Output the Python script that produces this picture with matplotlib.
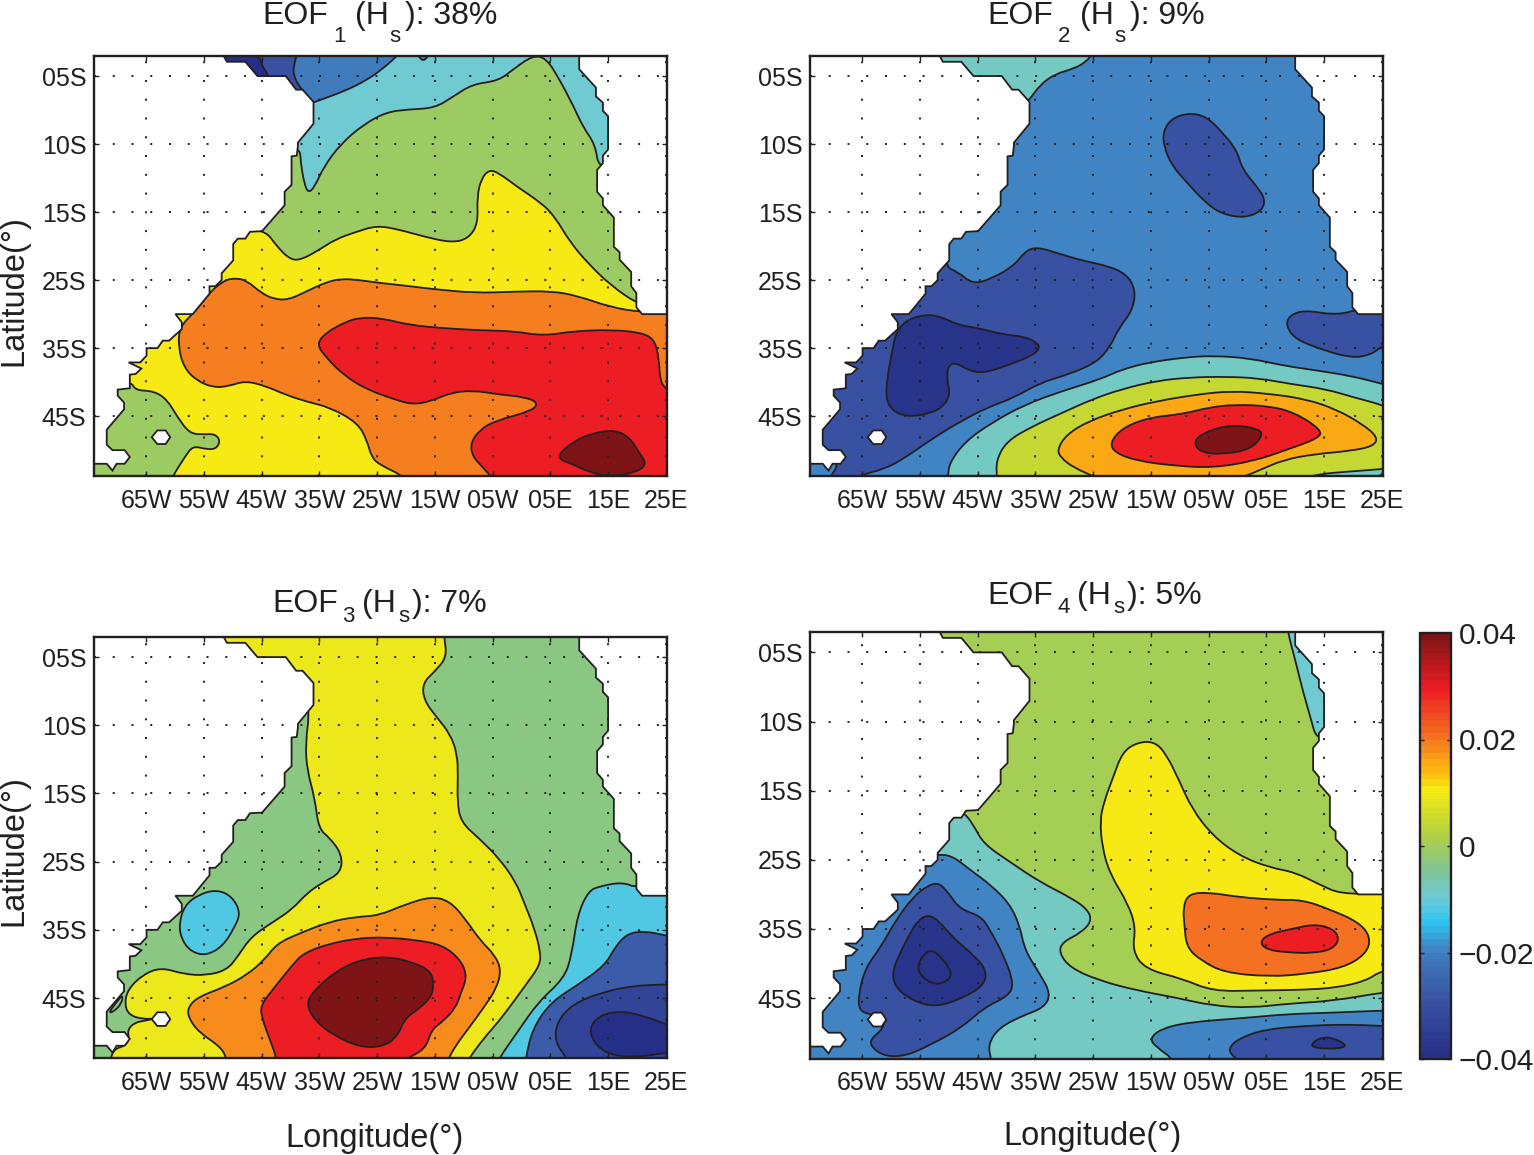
import numpy as np
import matplotlib
matplotlib.use("Agg")
import matplotlib.pyplot as plt
from matplotlib.cm import ScalarMappable
from matplotlib.colors import LinearSegmentedColormap, Normalize
from matplotlib.patches import PathPatch
from matplotlib.path import Path

plt.rcParams['font.family'] = ['Liberation Sans', 'DejaVu Sans']

INK = "#231f20"

lon_ticks = [-65, -55, -45, -35, -25, -15, -5, 5, 15, 25]
lon_labels = ["65W", "55W", "45W", "35W", "25W", "15W", "05W", "05E", "15E", "25E"]
lat_ticks = [-5, -15, -25, -35, -45, -55]
lat_labels = ["05S", "10S", "15S", "25S", "35S", "45S"]
cbar_ticks = [-0.04, -0.02, 0, 0.02, 0.04]
cbar_labels = ["\u22120.04", "\u22120.02", "0", "0.02", "0.04"]

# colour scale
cmap_values = [-0.04, -0.029, -0.02, -0.0144, -0.01, -0.005, 0.0, 0.005, 0.0106, 0.0135, 0.02, 0.03, 0.04]
cmap_colors = ["#262f87", "#3a54a4", "#4180c0", "#2dc4f2", "#6fcbd8", "#7cc49a", "#a0cc5a",
               "#c8d82e", "#f5ec14", "#ffc20e", "#f47a20", "#ed1c24", "#7f1416"]

# land outlines
west_lon = [-51.9, -51.0, -47.8, -45.7, -40.8, -39.0, -37.9, -36.0, -36.0, -38.7, -38.7, -38.9, -39.8, -39.8, -41, -41,
            -44.9, -47, -47.8, -49.1, -49.9, -49.9, -51.9, -51.9, -53, -54, -54, -56.9, -59.9, -58.8, -58.8, -61,
            -62.1, -63, -64.9, -64.9, -66, -68, -65.8, -66.8, -67.8, -67.8, -69.9, -69.9, -68.8, -68.8, -71.8, -71.8,
            -70.8, -68.7, -67.8, -68.7, -70.1, -70.8, -71.8, -74, -76, -76, -51.9]
west_lat = [-1.5, -2.9, -2.9, -5, -5, -7, -7, -8.8, -12.0, -14.8, -15.3, -16.7, -16.8, -21, -22, -24,
            -27.8, -27.9, -28.9, -28.9, -29.7, -32.1, -34, -35, -35.9, -35.9, -37, -40, -40, -41.2, -42.2, -43.9,
            -43.9, -45, -45, -46.1, -47.1, -47.1, -48, -48.8, -48.9, -50.9, -51.1, -52, -53, -54, -57, -59.2,
            -60, -60, -61, -62, -62, -63, -62, -62, -62, 0, 0]
east_lon = [10, 10, 12.9, 12.9, 14.1, 14.1, 15, 15, 14.1, 14.1, 13.1, 13.1, 14.1, 14.1, 16, 16, 17, 17, 19, 19,
            19.9, 19.9, 20.9, 27, 27, 10]
east_lat = [-1.5, -4, -6.7, -8, -8.9, -10.1, -10.9, -15.8, -16.7, -17.8, -18.8, -22, -23, -24, -25.8, -30.1,
            -30.9, -32, -33.8, -35.9, -36.9, -39, -40, -40, 0, 0]
island_lon = [-64, -63.05, -61.6, -60.8, -61.6, -63.05]
island_lat = [-58.1, -57.1, -57.1, -58.1, -59.1, -59.1]

# EOF1 contour regions
e1_green_lon = [-44.2, -42.3, -40, -38.1, -35.1, -32.2, -28.6, -25.1, -21.5, -16.9, -12.1, -9.2, -7.5, -7.7, -6.9, -5.6,
                -4, -0.7, 3.5, 5.8, 8.4, 11.6, 15.5, 20.1, 22, 24, 24, -50, -55, -48]
e1_green_lat = [-27.8, -30.1, -32, -32, -30.6, -29, -27.9, -27, -27.5, -28.6, -29.5, -28.9, -26.7, -22.7, -20, -18.8,
                -19.2, -21.3, -23.7, -25.7, -29.4, -32.6, -35.8, -38.5, -38.5, -20, 0, 0, -20, -27.5]
e1_greensw_lon = [-67.6, -66.9, -63.7, -61.4, -59.5, -57.5, -55.3, -53, -52.1, -53, -54.9, -56.9, -58.2, -60.5, -61.4, -78, -78]
e1_greensw_lat = [-49.8, -51.2, -51.3, -52.5, -55.2, -57.5, -57.7, -57.6, -58.7, -59.9, -59.8, -59.4, -60.9, -64, -66, -66, -49.8]
e1_orange_lon = [-54, -51.4, -49.4, -47.5, -45.2, -42.9, -40.3, -37.1, -33.8, -31.2, -28, -24.7, -20.2, -15.6, -7.9, -1.4,
                 5.1, 9.7, 15.5, 20.7, 28.5, 28.5, -17, -19.9, -24.7, -26, -26.7, -28.3, -33.2, -37.1, -41, -44.2, -47.8,
                 -50.7, -53.3, -56.2, -58.4, -59.4, -59.2, -56.6]
e1_orange_lat = [-36.8, -35, -34.7, -35.1, -36.8, -37.8, -37.9, -36.6, -35.3, -34.8, -35, -35.4, -35.8, -36.3, -36.9, -36.7,
                 -36.6, -37.3, -39, -39.7, -40, -68, -67.6, -64, -62.1, -60.9, -58.7, -56, -53.7, -52.9, -51.8, -50.6, -49.8,
                 -50.6, -50.8, -49.8, -47.9, -44.9, -41.9, -39.7]
e1_red_lon = [-35.5, -33.8, -30.6, -28, -24.1, -19.5, -13.1, -6.6, -1.4, 3.8, 9, 15.5, 20.7, 23, 23.8, 24, 25, 28, 28, -2,
              -6.6, -8.5, -8.8, -7.2, -4.6, 1.9, 2.9, 0.6, -4, -8.5, -12.4, -15.6, -18.9, -22.1, -26.7, -30.6, -33.8]
e1_red_lat = [-44.4, -42.7, -41.2, -40.5, -40.6, -41.6, -42.1, -42.4, -42.5, -43.2, -42.5, -42.3, -42.7, -43.7, -46.4, -49.8, -51, -53, -68, -67,
              -62.6, -60.9, -58.9, -57, -55.7, -54.2, -53, -52.2, -51.8, -51.2, -51.6, -52.8, -53.3, -52.5, -51.1, -49.1, -46.4]
e1_dark_lon = [5.8, 9, 12.3, 16.2, 18.8, 20.4, 21.7, 20.1, 15.5, 11.6, 9]
e1_dark_lat = [-61.1, -58.7, -57.5, -57, -58.2, -60.4, -62, -63.2, -63.9, -63.2, -62.1]
e1_cyan_lon = [-38.4, -38.2, -37.6, -36.9, -35.8, -34.2, -31.2, -27.3, -23.4, -19.5, -15, -11.8, -8.5, -4, -1.4, 1.9, 4.2,
               6.4, 9, 10.6, 12.8, 13.4, 20, 20, -45, -45]
e1_cyan_lat = [-15.3, -17.8, -20.8, -22.2, -21.3, -18.3, -14.9, -12.1, -10.3, -9.9, -9.7, -8, -6.2, -5.7, -4, -2.0, -2.3,
               -5.2, -9.4, -12.4, -15.1, -18.8, -18.8, 0, 0, -15.3]
e1_blue_lon = [-50, -37, -34.8, -30.6, -27, -24.1, -21.2, -19.5, -55]
e1_blue_lat = [-9, -9.2, -8.5, -7.2, -5.7, -4, -1.8, 0, 0]
e1_dblue_lon = [-38.2, -39.5, -39.4, -37.9, -36.5, -42, -55]
e1_dblue_lat = [0, -3.5, -5.2, -7.2, -8.6, -9, -3]
e1_navy_lon = [-45.2, -45, -43.6, -44, -55, -55]
e1_navy_lat = [-2, -3.5, -5, -7, -7, 0]
e1_bump_lon = [-18.5, -17, -15.5]
e1_bump_lat = [-1.0, -3.2, -1.0]

# EOF2 contour regions
e2_teal_lon = [-36.1, -34.2, -31.6, -28.3, -26.4, -25.2, -24.4, -55, -55, -45, -38]
e2_teal_lat = [-8.6, -6.3, -4.7, -3.9, -3, -1.9, 0.3, 0, -5, -7.5, -10]
e2_ne_lon = [-8.2, -5.3, -2.7, -0.1, 0.8, 3.2, 4.8, 4.3, 1.2, -3, -5.9, -8.8, -11.4, -12.7, -12.9, -11.4]
e2_ne_lat = [-10.4, -11, -13.2, -15.9, -18.6, -21.1, -23, -24.8, -25.9, -25.2, -23.3, -20.6, -18.1, -15.4, -13.2, -11.2]
e2_west_lon = [-50.7, -48.4, -45.8, -42.6, -38.7, -36.8, -34.8, -30.9, -27, -22.5, -19.2, -17.6, -18.2, -20.5, -22.1, -24.4,
               -29, -34.2, -38.7, -43.2, -47.8, -53, -57.5, -61.1, -66, -67, -71.2, -68.7, -72, -76, -70, -58, -50]
e2_west_lat = [-33, -33.8, -35.6, -34.8, -32.9, -30.8, -30.1, -31.1, -32.1, -32.9, -34.1, -36.5, -39.5, -42, -44.9, -47.1,
               -48.8, -50.1, -52.3, -53.7, -55.7, -58.4, -61.1, -62.8, -63.8, -65.5, -64.6, -61.9, -61.5, -55, -45, -35, -28]
e2_navy_lon = [-53.6, -51, -48.4, -44.5, -40.6, -36.8, -34.7, -34.2, -35.5, -39.4, -43.9, -46.5, -48.8, -50.1, -50.3, -49.7,
               -51, -53.6, -57.2, -59.8, -60.9, -60.6, -59.8, -59, -56.9]
e2_navy_lat = [-40, -40.5, -41.6, -42.1, -43, -43.3, -44.2, -45, -46.1, -47.4, -48.7, -48.3, -47.1, -47.6, -49.6, -51.8,
               -53.7, -54.7, -55.1, -54.2, -52.3, -49.3, -45.4, -42.4, -40.7]
e2_se_lon = [20.1, 16.5, 11.6, 9, 8.4, 10, 15.2, 19.7, 22.7, 24.9, 28, 28, 21]
e2_se_lat = [-39.6, -40.1, -39.4, -40.2, -41.7, -43.7, -45.4, -46.4, -46.1, -44.9, -43, -39, -39]
e2_tealsouth_lon = [-50.1, -49.9, -47.1, -42.6, -36.8, -30.3, -23.8, -19.9, -15.3, -9.5, -4.3, 2.2, 8.1, 13.9, 19.7, 24.9, 28, 28, -51]
e2_tealsouth_lat = [-64, -61.9, -58.7, -56, -53.3, -51.3, -49.6, -48.1, -47.1, -46.4, -46.1, -46.5, -47.6, -48.3, -49.1, -50.2, -51, -68, -68]
e2_olive_lon = [-41.6, -41.8, -40, -35.5, -30.3, -25.1, -19.9, -14, -8.2, -2.3, 3.5, 9.4, 15.2, 20.4, 24.9, 28, 28, 24.9, 18.4, 14.5, 12, 10, -42]
e2_olive_lat = [-64, -61.6, -58.7, -56.5, -54.5, -52.5, -51, -49.8, -49.3, -49.2, -49.4, -50.3, -51, -52.3, -53.3, -54.5, -62.5, -62.8, -63.2, -63.5, -64, -65.5, -66]
e2_amber_lon = [-31.2, -29.6, -25.7, -19.9, -14, -6.9, -1, 5.5, 11.9, 17.1, 21.7, 24.3, 23.6, 19.7, 13.2, 8.1, 4.2, 0.9, -4.3, -23.8, -24.4, -28.3, -30.6]
e2_amber_lat = [-59.9, -57.7, -55.7, -54, -52.8, -51.8, -51.3, -51.7, -52.5, -54, -56.2, -58.1, -59.4, -60.1, -60.6, -61.4, -62.8, -64, -65, -65, -64, -62.6, -61.1]
e2_red_lon = [-22.1, -19.9, -15.3, -9.5, -4.9, -0.4, 5.5, 10, 14.5, 14.2, 8.7, 2.9, -4.3, -10.8, -17.3, -21.2]
e2_red_lat = [-58.9, -56.7, -55.2, -54.7, -53.7, -53.3, -53.5, -54.5, -57, -58.2, -59.9, -61.6, -62.6, -62.3, -61.6, -60.4]
e2_dark_lon = [-7.7, -5.9, -1, 3.8, 4.4, 2.2, -2.3, -6.2]
e2_dark_lat = [-58.9, -57.4, -56.2, -56.9, -57.9, -59.9, -60.6, -60.4]

# EOF3 contour regions
e3_yellow_lon = [-13.4, -13.4, -12.9, -15, -17.1, -16.9, -14.7, -12.4, -11.1, -11, -11.1, -10.5, -7.2, -4, -1, 0.6, 2.2, 3.3, 3.2,
                 0.9, -1.4, -4, -6.6, -9.2, -10.5, -71.4, -71.2, -70.5, -68.6, -67.9, -68.2, -67, -65, -63.4, -65.6, -67.9,
                 -68.7, -68.2, -65.6, -62.4, -58.5, -54.6, -51, -49.1, -46.8, -42.9, -39.7, -37.1, -34.5, -31.2, -31.1, -33.2,
                 -35.1, -35.8, -37.1, -37.4, -36.6, -38.4, -50, -60]
e3_yellow_lat = [0, -2, -5, -7.1, -8.8, -11.3, -13.8, -16.2, -19.2, -22.6, -26.1, -29.2, -31.7, -34.4, -37.9, -41.3, -44.7, -48.2, -50.2,
                 -52.9, -55.6, -58.5, -61, -64, -66, -66.5, -64, -62.5, -62, -61, -59.7, -58.6, -58.3, -58, -58.1, -57.5,
                 -56, -53.8, -51.6, -50.5, -51.5, -51.7, -50.9, -48.9, -46, -43.8, -42, -39.6, -38.1, -36.6, -33.9, -31.5,
                 -30.2, -25.6, -21.6, -17.7, -12.5, -9.3, -9, 0]
e3_sliver_lon = [-71.5, -70, -69, -69.2, -70.6]
e3_sliver_lat = [-57.2, -55.5, -54.5, -55.8, -57]
e3_blob_lon = [-55.9, -52.7, -50.1, -48.6, -49.7, -51.7, -54.6, -57.2, -58.8, -59.3, -58.4]
e3_blob_lat = [-39.8, -39.1, -40.1, -42.5, -44.7, -47.4, -48.8, -48.2, -46.5, -44.3, -41.5]
e3_orange_lon = [-57.7, -55.9, -51.4, -47.5, -44.5, -42.3, -38.4, -33.2, -28.6, -24.7, -20.2, -15.6, -12.4, -9.8, -7.2, -4.6, -3.5,
                 -4.3, -6.6, -9.2, -11.4, -12.7, -13.7, -51, -51, -52, -55.9, -57.7]
e3_orange_lat = [-56.3, -54.8, -53.4, -51.6, -49.4, -47, -45.5, -43.8, -43.1, -42.9, -41.3, -40.1, -40.8, -43.3, -46.5, -48.7, -50.9,
                 -53.6, -56.5, -59.5, -62, -64, -66, -66, -64, -62.2, -60, -57.8]
e3_red_lon = [-45.2, -42.9, -39.7, -37.7, -33.2, -28, -23.4, -18.2, -13.7, -10.5, -9.4, -10.5, -11.4, -13.7, -15.6, -16.6, -20.2, -21.5,
              -42.3, -42.3, -43.6, -44.9]
e3_red_lat = [-56.1, -53.6, -50.2, -48.4, -47, -46.2, -46.1, -46.5, -47.2, -49.4, -51.9, -54.3, -56.5, -58.5, -59.7, -62.5, -64, -66,
              -66, -64, -61, -58]
e3_dark_lon = [-37.3, -35.8, -32.2, -28, -23.4, -18.9, -15.6, -15.2, -15.6, -17.6, -20.2, -21.5, -24.1, -28, -32.5, -35.8]
e3_dark_lat = [-55.8, -53.8, -51.1, -49.4, -48.9, -49.7, -51.1, -53.1, -54.8, -56.5, -58, -60.7, -62.2, -62.2, -60.5, -58.3]
e3_cyan_lon = [-4, -0.7, 2.9, 7.4, 8.7, 9.7, 11.6, 13.6, 17.5, 20.1, 22, 28, 28, -5]
e3_cyan_lat = [-64, -60, -55.6, -52.1, -48.7, -42.8, -39.3, -38.6, -38, -38.9, -37, -37, -66, -66]
e3_blue_lon = [0.7, 1.9, 5.1, 9.7, 14.5, 16.2, 18.4, 21.4, 25, 28, 28, 0.5]
e3_blue_lat = [-64, -59.5, -55.6, -53.1, -50.2, -47.5, -45.5, -45.2, -45.8, -46.5, -66, -66]
e3_dblue_lon = [8, 5.8, 6.1, 9, 14.2, 19.4, 25, 28, 28, 9]
e3_dblue_lat = [-64, -61.5, -58.5, -55.8, -54.1, -53.2, -53, -53, -66, -66]
e3_navy_lon = [11.6, 13.6, 17.1, 20.7, 25, 28, 28, 25, 20.1, 15.5, 12.9]
e3_navy_lat = [-59.5, -57.5, -56.9, -57.5, -58.8, -60, -63, -63, -63.7, -63.4, -62]

# EOF4 contour regions
e4_cyanne_lon = [8.7, 10, 11.3, 12.6, 13.8, 20, 20, 8.5]
e4_cyanne_lat = [-2, -6.1, -10.5, -14.3, -17.9, -17.9, 0, 0]
e4_teal_lon = [-47.1, -45.5, -43.9, -39.4, -34.2, -29, -26, -25.2, -27, -30.3, -30.9, -29, -23.8, -17.3, -10.8, -4.3, 2.2, 8.7, 16.5, 24.9,
               28, 28, -78, -78, -60, -50]
e4_teal_lat = [-28.3, -30.3, -32.7, -35.3, -38.2, -40.4, -42.1, -43.8, -45.5, -46.9, -48.4, -50.6, -52.5, -53.9, -54.9, -56.1, -56.4, -55.8, -55.4, -54.2,
               -54, -68, -68, -45, -32, -27]
e4_yellow_lon = [-23.8, -23.1, -21.5, -19.9, -17.3, -14.4, -12.4, -10.1, -7.9, -4.3, 0.3, 5.5, 10, 14.5, 17.8, 24.9, 28, 28, 24.9, 22.3, 17.1, 11.3,
                 3.5, -4.3, -9.5, -16, -18.2, -17.6, -18.9, -22.1, -23.4]
e4_yellow_lat = [-29.3, -26.6, -23, -19.4, -18, -17.9, -19.6, -23.5, -27.6, -31.5, -34.4, -36.1, -36.8, -38.7, -39.9, -39.9, -39.9, -51.2, -51, -52.5, -53.5, -53.8,
                 -53.9, -54, -52.2, -50.8, -48.1, -44.8, -41.4, -37, -33.2]
e4_orange_lon = [-9.4, -8.5, -4.9, 0.3, 6.8, 11.3, 15.8, 21, 23.1, 22.3, 18.4, 11.9, 5.5, -2.3, -6.2, -8.8, -9.2]
e4_orange_lat = [-41.9, -39.9, -39.7, -40.4, -40.8, -40.8, -42.1, -44, -46.2, -48.6, -50.6, -51.5, -51.9, -51.3, -49.6, -47.7, -44.3]
e4_red_lon = [3.8, 5.5, 9.4, 13.2, 16.5, 17.7, 16.5, 13.2, 8.7, 5.1]
e4_red_lat = [-46.9, -45.7, -45, -44.3, -44.9, -46.4, -47.9, -48.5, -48.4, -48]
e4_blue_lon = [-52, -49.4, -46.5, -42.6, -39.4, -37.7, -36.8, -34.2, -32.3, -33.5, -37.4, -41.3, -43.2, -42.6, -42, -78, -78, -60]
e4_blue_lat = [-34.2, -34.4, -36.3, -38.7, -41.4, -44.5, -48.1, -51.5, -54.4, -56.4, -57.6, -59.3, -61.7, -64, -67, -67, -45, -35]
e4_dblue_lon = [-51.7, -50.1, -48.1, -44.5, -42.9, -40.3, -38.7, -39.7, -43.9, -47.8, -53, -57.5, -61.1, -63.4, -63.5, -61.4, -61.1, -63.7,
                -65.5, -65.6, -64.4, -61.8, -59.2, -56.2, -53.6]
e4_dblue_lat = [-38.3, -39.7, -42.1, -43.1, -45, -49.1, -53, -54.7, -56.4, -59.3, -61.7, -63.4, -63.4, -62.1, -60.9, -59.5, -58, -57.3,
                -56.8, -54.4, -50.6, -47.7, -43.8, -40.4, -38.7]
e4_navy_lon = [-53.6, -51.7, -49.1, -45.5, -43.4, -43.9, -47.8, -52.3, -56.2, -59.2, -59.8, -58.5, -56.6, -55.3]
e4_navy_lat = [-42.9, -43.8, -46.4, -48.9, -51, -53.2, -55.1, -56.3, -55.4, -53.5, -51.3, -48.6, -45.5, -43.8]
e4_core_lon = [-53, -51, -49.4, -50.1, -52.3, -54.6, -55.4, -54.6]
e4_core_lat = [-47.9, -49.3, -51.3, -52.5, -53.1, -52, -50.6, -48.9]
e4_band_lon = [-15.2, -13.4, -8.8, 2.2, 8.7, 16.5, 24.9, 28, 28, -10, -10.8, -14]
e4_band_lat = [-60.9, -59.5, -58.5, -57.8, -57.3, -57.1, -56.8, -56.8, -67, -67, -64, -62.1]
e4_dband_lon = [-1.4, 0.3, 4.8, 11.9, 18.4, 24.9, 28, 28, 0, 0.3, -1.2]
e4_dband_lat = [-62.1, -60.8, -59.5, -59, -58.8, -59, -59.2, -67, -67, -64, -63.1]
e4_spot_lon = [12.3, 14.2, 16.5, 19.4, 15.8]
e4_spot_lat = [-62, -60.7, -60.7, -62, -62.4]

# (base value, [(value, lons, lats), ...]) painted in this order
eof1_base = 0.0103
eof1_layers = [(-0.001, e1_green_lon, e1_green_lat), (-0.001, e1_greensw_lon, e1_greensw_lat),
               (0.0192, e1_orange_lon, e1_orange_lat), (0.0295, e1_red_lon, e1_red_lat),
               (0.0395, e1_dark_lon, e1_dark_lat), (-0.0095, e1_cyan_lon, e1_cyan_lat),
               (-0.0205, e1_blue_lon, e1_blue_lat), (-0.03, e1_dblue_lon, e1_dblue_lat),
               (-0.039, e1_navy_lon, e1_navy_lat), (-0.0205, e1_bump_lon, e1_bump_lat)]
eof2_base = -0.0195
eof2_layers = [(-0.008, e2_teal_lon, e2_teal_lat), (-0.03, e2_ne_lon, e2_ne_lat),
               (-0.03, e2_west_lon, e2_west_lat), (-0.038, e2_navy_lon, e2_navy_lat),
               (-0.03, e2_se_lon, e2_se_lat), (-0.008, e2_tealsouth_lon, e2_tealsouth_lat),
               (0.0042, e2_olive_lon, e2_olive_lat), (0.0155, e2_amber_lon, e2_amber_lat),
               (0.0295, e2_red_lon, e2_red_lat), (0.0395, e2_dark_lon, e2_dark_lat)]
eof3_base = -0.003
eof3_layers = [(0.0092, e3_yellow_lon, e3_yellow_lat), (-0.0035, e3_sliver_lon, e3_sliver_lat),
               (-0.0125, e3_blob_lon, e3_blob_lat), (0.0178, e3_orange_lon, e3_orange_lat),
               (0.0295, e3_red_lon, e3_red_lat), (0.0395, e3_dark_lon, e3_dark_lat),
               (-0.0125, e3_cyan_lon, e3_cyan_lat), (-0.027, e3_blue_lon, e3_blue_lat),
               (-0.033, e3_dblue_lon, e3_dblue_lat), (-0.039, e3_navy_lon, e3_navy_lat)]
eof4_base = 0.0005
eof4_layers = [(-0.0095, e4_cyanne_lon, e4_cyanne_lat), (-0.0085, e4_teal_lon, e4_teal_lat),
               (0.011, e4_yellow_lon, e4_yellow_lat), (0.0205, e4_orange_lon, e4_orange_lat),
               (0.0295, e4_red_lon, e4_red_lat), (-0.02, e4_blue_lon, e4_blue_lat),
               (-0.03, e4_dblue_lon, e4_dblue_lat), (-0.038, e4_navy_lon, e4_navy_lat),
               (-0.038, e4_core_lon, e4_core_lat), (-0.02, e4_band_lon, e4_band_lat),
               (-0.03, e4_dband_lon, e4_dband_lat), (-0.038, e4_spot_lon, e4_spot_lat)]

W, H = 1534, 1155
norm = Normalize(-0.04, 0.04)
stops = [(norm(v), c) for v, c in zip(cmap_values, cmap_colors)]
cmap = LinearSegmentedColormap.from_list("eof", stops, N=64)


def px_axes(fig, x0, y0, x1, y1):
    return fig.add_axes([x0 / W, 1 - y1 / H, (x1 - x0) / W, (y1 - y0) / H])


def smooth_patch(lons, lats, value, z):
    # quadratic spline through the mid points, contour lines are round
    pts = np.column_stack([lons, lats])
    mids = (pts + np.roll(pts, -1, axis=0)) / 2
    verts = [mids[-1]]
    codes = [Path.MOVETO]
    for p, m in zip(pts, mids):
        verts += [p, m]
        codes += [Path.CURVE3, Path.CURVE3]
    return PathPatch(Path(verts, codes), facecolor=cmap(norm(value)), edgecolor=INK, lw=1.3, zorder=z)


def draw_panel(ax, base, layers):
    ax.set_facecolor(cmap(norm(base)))
    for i, (value, lons, lats) in enumerate(layers):
        ax.add_patch(smooth_patch(lons, lats, value, 1 + i * 0.01))
    for lons, lats in [(west_lon, west_lat), (east_lon, east_lat), (island_lon, island_lat)]:
        ax.fill(lons, lats, facecolor="white", edgecolor=INK, lw=1.3, zorder=1.5)
    ax.set_xlim(-74, 25.2)
    ax.set_ylim(-63.8, -2.05)
    ax.set_xticks(lon_ticks)
    ax.set_xticklabels(lon_labels, fontsize=18, color=INK)
    ax.set_yticks(lat_ticks)
    ax.set_yticklabels(lat_labels, fontsize=18, color=INK, va="center_baseline")
    ax.tick_params(direction="in", top=True, right=True, length=3.5, width=1.0, color=INK)
    ax.tick_params(axis="x", pad=9)
    ax.tick_params(axis="y", pad=5.5)
    ax.grid(True, color=INK, lw=1.4, linestyle=(0, (1, 8.65)))
    ax.set_axisbelow(False)
    for s in ax.spines.values():
        s.set_linewidth(1.7)
        s.set_color(INK)
        s.set_zorder(5)


def draw_title(xs, base, sub_base, number, rest):
    # the subscripts sit at their own height, so each piece is its own text
    pieces = [(xs[0], base, "EOF", 23), (xs[1], sub_base, number, 16), (xs[2], base, "(H", 23),
              (xs[3], sub_base, "s", 16), (xs[4], base, rest, 23)]
    for x, y, s, size in pieces:
        fig.text(x / W, 1 - y / H, s, fontsize=size, color=INK, ha="left", va="baseline")


fig = plt.figure(figsize=(W / 100, H / 100), dpi=100)

ax1 = px_axes(fig, 94, 56, 667, 476)
ax2 = px_axes(fig, 810, 56, 1383, 476)
ax3 = px_axes(fig, 94, 637, 667, 1058)
ax4 = px_axes(fig, 810, 632, 1383, 1059)

draw_panel(ax1, eof1_base, eof1_layers)
draw_panel(ax2, eof2_base, eof2_layers)
draw_panel(ax3, eof3_base, eof3_layers)
draw_panel(ax4, eof4_base, eof4_layers)

draw_title([262, 333, 355, 389, 405], 24, 42, "1", "): 38%")
draw_title([987, 1058, 1080, 1114, 1130], 24, 42, "2", "): 9%")
draw_title([272, 342, 362, 398, 412], 612, 622, "3", "): 7%")
draw_title([987, 1057, 1077, 1113, 1127], 604, 613, "4", "): 5%")

fig.text(375 / W, 1 - 1139 / H, "Longitude(\u00b0)", fontsize=23.5, color=INK, ha="center", va="center")
fig.text(1092 / W, 1 - 1136 / H, "Longitude(\u00b0)", fontsize=23.5, color=INK, ha="center", va="center")
fig.text(14 / W, 1 - 291 / H, "Latitude(\u00b0)", fontsize=23.5, color=INK, ha="center", va="center", rotation=90)
fig.text(14 / W, 1 - 851 / H, "Latitude(\u00b0)", fontsize=23.5, color=INK, ha="center", va="center", rotation=90)

cax = px_axes(fig, 1420, 633, 1451, 1059)
cb = fig.colorbar(ScalarMappable(norm=norm, cmap=cmap), cax=cax)
cb.set_ticks(cbar_ticks)
cb.set_ticklabels(cbar_labels, fontsize=21.5, color=INK)
cb.ax.tick_params(direction="in", left=True, right=True, length=3, width=1.0, color=INK, pad=5.5)
cb.outline.set_linewidth(1.7)
cb.outline.set_edgecolor(INK)

fig.savefig("out.png", dpi=100)
